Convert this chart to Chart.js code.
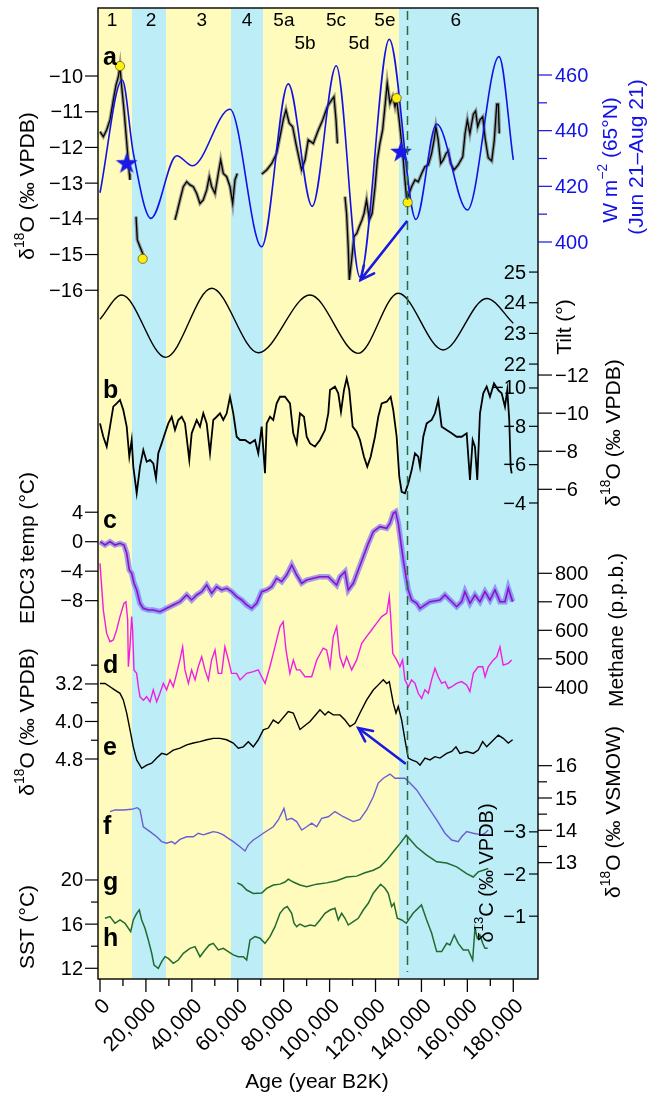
<!DOCTYPE html>
<html><head><meta charset="utf-8">
<script src="https://cdn.jsdelivr.net/npm/chart.js@4.4.1/dist/chart.umd.min.js"></script>
<style>html,body{margin:0;padding:0;background:#fff;}#wrap{width:659px;height:1096px;}</style>
</head><body><div id="wrap"><canvas id="c" width="659" height="1096"></canvas></div>
<script>
// ---------------- DATA ----------------
const stageBounds = [14000, 28600, 57200, 71000, 130100];
const stageLabels = ['1','2','3','4','5a','5b','5c','5d','5e','6'];
const stageLabelAge = [5200, 22200, 44300, 64000, 80100, 89300, 102800, 112800, 124100, 155000];
const stageLabelRow = [0,0,0,0,0,1,0,1,0,0];
const terminationAge = 133500;

// a: speleothem d18O (null = gap)
const speleoAge = [0,1440,2900,4350,5800,7000,8000,8700,9450,10450,11300,12050,12750,13050,
 14500,
 15700,16250,17400,18600,19600,
 26000,
 32650,33400,34840,36280,37760,39200,40630,42110,43550,44990,46470,47600,48650,50080,51520,52560,53700,55180,56620,57790,58790,59800,
 65000,
 70400,72600,74800,76900,78400,79800,81000,82400,83900,85600,87800,89300,90700,92900,95100,97000,99000,100900,101900,102800,103400,
 105000,
 106700,107400,108100,108600,109600,110600,111800,112900,114100,115000,116100,117300,118500,119800,120800,121900,123100,124100,125100,126300,127500,128500,129200,130300,131400,132100,132800,133600,
 135700,137200,138600,140100,141500,143000,144400,145500,146300,147300,148400,149500,150700,151700,152700,154200,156000,158000,159000,160000,161100,162600,163600,164500,165500,166700,167700,169100,170600,171700,172800,173500,173900];
const speleoD18O = [-11.56,-11.70,-11.51,-11.23,-10.67,-10.25,-10.02,-9.72,-10.3,-10.95,-11.6,-12.17,-12.73,-12.91,
 null,
 -13.94,-14.59,-14.78,-14.97,-15.1,
 null,
 -14.03,-13.85,-13.47,-13.1,-12.96,-13.05,-13.1,-13.29,-13.57,-13.47,-13.19,-12.82,-13.1,-13.29,-12.73,-12.35,-12.73,-12.82,-13.1,-13.57,-12.91,-12.73,
 null,
 -12.75,-12.63,-12.45,-12.17,-11.7,-11.23,-10.95,-11.32,-11.42,-11.98,-12.63,-12.35,-11.79,-11.89,-11.51,-11.23,-10.86,-10.67,-10.58,-11.23,-11.89,
 null,
 -13.38,-13.85,-14.78,-15.71,-15.15,-14.5,-14.41,-14.22,-14.03,-13.85,-13.47,-14.03,-13.85,-13.1,-12.35,-11.89,-11.51,-10.86,-10.2,-10.77,-10.58,-10.86,-10.67,-11.23,-11.89,-12.35,-12.91,-13.47,
 -13.1,-12.91,-12.96,-12.73,-12.54,-12.49,-12.17,-11.79,-11.42,-11.79,-12.45,-12.35,-12.17,-12.1,-12.45,-12.63,-12.49,-12.26,-11.61,-11.23,-11.61,-11.07,-10.98,-11.42,-11.23,-11.14,-11.73,-12.29,-12.38,-11.82,-10.79,-10.79,-11.61];
const dotAge = [8700, 18600, 129200, 134000];
const dotD18O = [-9.72, -15.12, -10.62, -13.54];

// insolation 65N
const insAge = [0,9700,14500,22200,33400,40300,56600,70400,82000,92400,102900,113200,126000,137600,146600,160000,173800,180000];
const insWm2 = [417.7,458.2,432,408.5,431,427.4,447.7,398.3,456.8,412.8,463.3,387.4,472.8,408.1,442.4,411.5,466.6,429.5];
const starAge = [11600, 131100];
const starIns = [428.3, 432.4];

// obliquity
const tiltAge = [0,9450,28600,48650,68950,91450,112500,129900,149500,168400,180000];
const tiltDeg = [23.46,24.25,22.22,24.47,22.37,24.25,22.35,24.31,22.46,24.14,23.33];

// b: d18O
const bAge = [0,1440,2920,4360,5790,7270,8710,10150,11630,12760,13810,14500,15240,15980,17420,18860,20340,21780,23210,24390,25390,26870,28310,29750,31230,32660,34100,35580,37020,38890,39930,42110,43550,44990,46470,47910,49340,50820,52260,53700,55180,56620,58050,59530,60970,63150,65330,67500,68940,70420,71860,72600,74040,75470,76950,78390,80570,82750,84180,85660,87100,88840,90020,91460,93630,95810,97990,99430,100170,102340,103780,104960,106260,107440,108570,110050,111790,113230,114970,116410,117890,119760,121200,122680,124860,126600,127730,129210,130350,131390,132830,134260,135740,137180,138620,139360,140800,142280,144460,145890,147330,148810,150990,153170,155340,157520,159700,161140,162310,163310,164320,165490,166930,168410,169850,171590,173460,174940,176380,177380,178250,178860,179300];
const bD18O = [-9.46,-8.76,-8.24,-9.29,-10.34,-10.51,-10.69,-10.16,-9.29,-7.71,-8.59,-7.19,-6.49,-5.79,-7.19,-8.06,-7.45,-7.54,-7.36,-6.58,-7.89,-8.41,-8.94,-9.46,-9.81,-9.11,-9.64,-9.81,-9.46,-7.54,-8.94,-9.64,-9.29,-9.99,-9.46,-7.89,-9.64,-9.81,-9.99,-9.64,-9.99,-10.86,-9.99,-8.76,-8.59,-8.59,-8.41,-8.59,-7.89,-9.29,-6.84,-9.46,-9.81,-9.64,-10.51,-10.86,-10.86,-10.51,-8.94,-8.41,-9.99,-9.81,-8.76,-8.41,-8.24,-8.59,-9.11,-9.99,-11.21,-11.39,-11.04,-10.07,-11.21,-11.83,-11.21,-9.29,-9.02,-8.59,-7.71,-7.19,-7.71,-8.76,-9.81,-10.51,-10.6,-10.86,-10.16,-8.76,-6.66,-5.87,-5.79,-6.31,-7.01,-7.89,-7.71,-7.19,-8.76,-9.46,-9.64,-9.99,-10.69,-9.29,-9.11,-8.94,-8.76,-8.76,-8.94,-6.49,-8.59,-8.24,-6.49,-9.99,-11.04,-11.39,-10.86,-11.56,-11.21,-11.04,-10.34,-11.21,-9.64,-7.19,-6.84];

// c: EDC3 temperature anomaly
const edcAge = [0,2180,4360,6530,8710,10450,11630,12760,13810,14810,15980,17420,18860,21040,23210,26130,29050,31920,34840,37760,39930,42110,44290,46470,48650,50820,53000,55180,57360,59530,61710,63890,66070,68240,70420,72600,74780,76950,79130,81310,83490,85660,87840,90020,92890,95810,99430,103080,104520,106700,108140,110310,112490,114670,116850,119020,121940,124860,126300,127730,128780,129910,131090,132090,133260,134260,135740,137920,139360,143720,148070,150250,152430,155340,157520,158960,161140,163310,165490,167670,169850,172020,174200,176380,177820,179720];
const edcTemp = [0,-0.45,0,-0.45,-0.22,-0.45,-1.57,-3.84,-4.29,-5.64,-6.55,-8.36,-9.04,-9.27,-9.27,-9.5,-9.04,-8.59,-8.14,-7.23,-7.91,-7.23,-6.78,-5.88,-7.0,-6.11,-6.55,-6.32,-6.78,-7.46,-7.91,-8.59,-9.04,-8.36,-6.78,-6.55,-6.11,-4.97,-5.43,-4.52,-3.16,-4.52,-5.64,-5.2,-4.97,-4.75,-4.75,-5.88,-4.75,-4.07,-6.55,-5.64,-3.84,-2.04,-0.22,1.36,2.04,1.82,2.5,3.85,4.07,2.5,-0.22,-2.48,-4.75,-6.55,-7.91,-8.36,-9.04,-8.14,-7.91,-7.23,-7.91,-8.82,-8.14,-6.78,-8.36,-7.23,-8.14,-6.78,-7.91,-6.55,-8.14,-8.14,-6.32,-8.14];

// d: methane (ppb)
const ch4Age = [0,1450,2900,4350,5800,7250,8700,10450,11300,12050,12350,13050,13800,14200,14800,15950,16700,17400,18900,20300,21800,23200,24700,26100,27600,29000,30500,31900,33400,34800,36000,37000,38500,39900,41400,42800,44300,45700,47200,48600,50100,51500,53000,54400,55900,57300,59500,61000,63900,66800,68900,70400,71900,74000,76200,78400,79800,81000,82700,84200,85600,87100,89300,92200,94400,97200,98700,100200,101600,103100,104500,106000,107400,109600,111800,114000,116100,118300,120500,122700,124900,126000,126600,127500,129200,130600,131800,132800,134300,135700,137200,138600,140100,141500,143000,144400,145900,147300,148800,150300,151700,153200,155300,157500,159700,161100,162600,164700,166700,167700,169100,171300,172800,174200,175600,177800,179300];
const ch4Ppb = [835,671,589,560,566,601,648,695,700,636,472,542,648,601,461,449,402,367,355,367,349,391,349,379,414,391,426,402,449,496,542,461,414,461,426,472,507,461,426,496,531,449,449,542,496,449,449,426,449,455,461,437,414,472,542,613,630,531,449,496,461,461,437,437,496,537,531,472,578,613,507,472,507,461,496,554,578,601,625,648,660,718,648,519,496,472,496,426,402,426,414,379,361,391,379,426,467,437,414,420,396,402,414,420,408,385,449,472,472,437,472,496,507,542,478,484,496];

// e: benthic d18O
const eAge = [0,2180,4360,6530,8710,10150,11630,13070,14500,15980,18160,20340,22520,24690,26870,29050,31920,34840,37760,40630,43550,46470,49340,52260,55180,58050,60230,62410,64590,66760,68940,71120,73300,75470,77650,82000,84180,87100,91460,95810,97990,99430,101610,104520,106700,108880,111050,113230,116150,119020,121200,123380,124860,126000,127730,128910,129910,131390,132830,134260,135740,137920,139360,141540,143720,145890,148070,150990,153170,155040,156780,159700,162570,164750,166670,168410,170590,173460,175640,177820,179720];
const eD18O = [3.19,3.19,3.26,3.33,3.40,3.54,3.82,4.18,4.54,4.82,5.0,4.93,4.89,4.78,4.68,4.71,4.61,4.57,4.5,4.46,4.43,4.39,4.36,4.36,4.39,4.46,4.57,4.54,4.43,4.54,4.39,4.18,4.14,3.97,4.04,3.79,3.82,4.17,4.0,3.75,3.86,3.79,3.86,3.86,3.97,4.11,4.04,3.82,3.54,3.33,3.22,3.11,3.19,3.15,3.61,3.82,3.68,3.97,4.39,4.78,4.82,4.86,4.93,4.78,4.82,4.75,4.78,4.68,4.64,4.54,4.68,4.64,4.68,4.61,4.43,4.54,4.43,4.29,4.36,4.46,4.39];

// f: d18O VSMOW
const fAge = [4360,6530,10150,13810,16240,17420,18860,21780,24690,26870,29050,31230,32660,34840,37760,40630,42810,44990,47170,49340,51520,53700,55880,58050,60970,63150,64590,66760,68940,71120,73300,75470,77650,79130,80130,81310,83490,85660,87840,90020,92200,94380,96550,99430,102340,105960,110310,113230,116150,119020,121200,123380,126300,128470,132830,135010,137920,140800,143720,146630,150250,153170,156040,157520,159700,162570,166230,167670,169110];
const fD18O = [14.58,14.63,14.63,14.65,14.7,14.63,14.11,13.96,13.8,13.65,13.6,13.65,13.58,13.72,13.8,13.8,13.91,13.86,13.91,13.96,13.93,13.86,13.75,13.65,13.49,13.36,13.55,13.7,13.8,13.91,14.01,14.11,14.32,14.53,14.68,14.32,14.37,14.27,14.01,14.11,14.22,14.11,14.37,14.42,14.58,14.42,14.27,14.34,14.63,15.04,15.46,15.61,15.74,15.61,15.61,15.46,15.25,14.94,14.63,14.32,13.91,13.7,13.65,13.8,13.96,13.91,13.86,13.91,14.01];

// g: d13C
const gAge = [59800,61710,63890,66760,70420,72600,75470,78390,80570,82000,84180,87100,90020,94380,98730,103080,107440,111790,115410,119020,121940,124860,127730,130650,133400,137920,142280,146630,150990,155340,159700,162570,164750,166930,169110];
const gD13C = [-1.79,-1.74,-1.62,-1.54,-1.55,-1.66,-1.74,-1.76,-1.81,-1.88,-1.81,-1.74,-1.70,-1.76,-1.79,-1.84,-1.93,-1.95,-2.03,-2.09,-2.17,-2.33,-2.53,-2.72,-2.92,-2.64,-2.45,-2.29,-2.26,-2.17,-2.01,-1.93,-2.05,-2.09,-2.13];

// h: SST
const hAge = [2180,4360,6530,8710,10890,13370,14500,15980,17120,18160,19600,21040,22520,23520,25390,26870,28310,29750,31920,34100,36280,39200,41370,43550,45730,47600,49340,51520,53700,55880,58050,60230,62410,63890,65330,67500,69680,71860,74040,76210,78390,80130,81570,83490,84490,85660,87100,89280,91460,93630,95810,97990,100170,102340,103780,105260,106700,108140,110310,112490,114670,116850,119020,120760,122240,124120,125560,127030,128040,129480,131390,133400,136350,140010,142280,144460,146630,148810,150990,152430,154300,156040,158220,160400,162310,163310,164320,165490,166670,167670,168840];
const hSST = [16.53,16.68,16.08,16.38,16.08,15.32,16.38,16.98,17.28,16.38,15.62,14.57,13.36,12.3,12.0,12.6,13.05,12.9,12.45,12.75,13.36,13.81,13.96,13.05,13.66,14.11,14.26,13.66,13.81,13.51,13.21,13.05,13.05,12.75,14.57,14.87,14.72,14.26,14.87,15.77,16.98,17.44,17.59,16.98,16.08,15.77,16.01,15.77,15.92,15.83,16.38,16.98,17.28,17.44,16.38,16.98,16.53,15.92,16.22,16.53,17.28,17.89,18.80,19.25,19.61,19.25,18.8,17.59,17.89,16.53,16.38,16.08,16.98,17.74,16.38,15.17,13.51,13.51,14.26,14.11,15.02,14.26,13.66,13.66,12.75,15.62,14.72,15.02,14.26,13.81,13.81];

// arrows [age, value]
const arrowA = [[133500, -14.08], [113500, -15.71]];
const arrowE = [[132800, 4.89], [112500, 4.14]];

// tick values
const xMajor = [0,20000,40000,60000,80000,100000,120000,140000,160000,180000];
const xMinor = [10000,30000,50000,70000,90000,110000,130000,150000,170000];
const aTicks = [-10,-11,-12,-13,-14,-15,-16];
const insTicks = [460,440,420,400];
const insMinor = [450,430,410];
const tiltTicks = [25,24,23,22];
const bOuterTicks = [-12,-10,-8,-6];
const bInnerTicks = [-10,-8,-6,-4];
const cTicks = [4,0,-4,-8];
const ch4Ticks = [800,700,600,500,400];
const eTicks = [3.2,4.0,4.8];
const eMinor = [2.8,3.6,4.4];
const fTicks = [16,15,14,13];
const fMinor = [15.5,14.5,13.5];
const gTicks = [-3,-2,-1];
const hTicks = [20,16,12];
const hMinor = [18,14];

// ---------------- STYLE / BUILD ----------------
const FONT = '"Liberation Sans", Arial, Helvetica, sans-serif';
const YELLOW = '#fefbbc', CYAN = '#bdedf7';
const BLUE = '#1212e6';
const pts = (ax, ay) => ax.map((a, i) => ({x: a, y: ay[i]}));

const starImg = document.createElement('canvas');
starImg.width = 24; starImg.height = 24;
(function(){
  const c = starImg.getContext('2d');
  c.fillStyle = '#1a1ae8';
  c.beginPath();
  for (let i = 0; i < 10; i++) {
    const r = i % 2 === 0 ? 11.5 : 4.6;
    const ang = -Math.PI / 2 + i * Math.PI / 5;
    const px = 12 + r * Math.cos(ang), py = 12.5 + r * Math.sin(ang);
    if (i === 0) c.moveTo(px, py); else c.lineTo(px, py);
  }
  c.closePath(); c.fill();
})();

function line(data, axis, color, width, extra) {
  return Object.assign({type:'line', data, yAxisID: axis, borderColor: color, borderWidth: width,
    pointRadius: 0, fill: false, tension: 0, spanGaps: false}, extra || {});
}
const smooth = {cubicInterpolationMode: 'monotone'};

const datasets = [
  line(pts(speleoAge, speleoD18O), 'yA', 'rgba(120,120,120,0.7)', 3.6),
  line(pts(speleoAge, speleoD18O), 'yA', '#000', 1.3),
  line(pts(insAge, insWm2), 'yIns', BLUE, 1.6, smooth),
  line(pts(tiltAge, tiltDeg), 'yTilt', '#000', 1.4, smooth),
  line(pts(bAge, bD18O), 'yB', '#000', 1.8),
  line(pts(edcAge, edcTemp), 'yC', 'rgba(125,115,250,0.7)', 5.5),
  line(pts(edcAge, edcTemp), 'yC', '#8a14c4', 1.6),
  line(pts(ch4Age, ch4Ppb), 'yCH4', '#f01ee0', 1.4),
  line(pts(eAge, eD18O), 'yE', '#000', 1.4),
  line(pts(fAge, fD18O), 'yF', '#6a5fd2', 1.4),
  line(pts(gAge, gD13C), 'yG', '#1f6b30', 1.5),
  line(pts(hAge, hSST), 'yH', '#1f6b30', 1.5),
  line(pts(dotAge, dotD18O), 'yA', '#6b5d00', 0.8, {showLine:false, pointRadius:4.6, pointBackgroundColor:'#ffee11', pointBorderColor:'#6b5d00', pointBorderWidth:0.8}),
  line(pts(starAge, starIns), 'yIns', BLUE, 0, {showLine:false, pointRadius:6, pointStyle: starImg})
];
datasets.forEach((d, i) => d.order = datasets.length - i);

const fmt = v => (v < 0 ? '\u2212' : '') + Math.abs(v);
const fmt1 = v => v.toFixed(1);

function rich(ctx, parts, x, y, rot, size, color, bold) {
  ctx.save();
  ctx.translate(x, y); ctx.rotate(rot);
  ctx.fillStyle = color; ctx.textBaseline = 'middle'; ctx.textAlign = 'left';
  const w = parts.map(p => { ctx.font = (bold ? 'bold ' : '') + (p.sup ? size * 0.66 : size) + 'px ' + FONT; return ctx.measureText(p.t).width; });
  let cx = -w.reduce((s, v) => s + v, 0) / 2;
  parts.forEach((p, i) => {
    ctx.font = (bold ? 'bold ' : '') + (p.sup ? size * 0.66 : size) + 'px ' + FONT;
    ctx.fillText(p.t, cx, p.sup ? -size * 0.36 : 0);
    cx += w[i];
  });
  ctx.restore();
}

function drawArrow(ctx, x0, y0, x1, y1) {
  ctx.beginPath(); ctx.moveTo(x0, y0); ctx.lineTo(x1, y1); ctx.stroke();
  const ang = Math.atan2(y1 - y0, x1 - x0), L = 15, sp = 0.45;
  ctx.beginPath();
  ctx.moveTo(x1 - L * Math.cos(ang - sp), y1 - L * Math.sin(ang - sp));
  ctx.lineTo(x1, y1);
  ctx.lineTo(x1 - L * Math.cos(ang + sp), y1 - L * Math.sin(ang + sp));
  ctx.stroke();
}

const decor = {
  id: 'decor',
  beforeDatasetsDraw(chart) {
    const {ctx, chartArea: a, scales: s} = chart;
    const edges = [s.x.min, ...stageBounds, s.x.max];
    ctx.save();
    for (let i = 0; i < edges.length - 1; i++) {
      const x0 = Math.round(s.x.getPixelForValue(edges[i])), x1 = Math.round(s.x.getPixelForValue(edges[i + 1]));
      ctx.fillStyle = i % 2 === 0 ? YELLOW : CYAN;
      ctx.fillRect(x0, a.top, x1 - x0, a.bottom - a.top);
    }
    ctx.restore();
  },
  afterDatasetsDraw(chart) {
    const {ctx, chartArea: a, scales: s} = chart;
    const X = v => s.x.getPixelForValue(v);
    const L = a.left, R = a.right;
    ctx.save();
    // termination dashed line
    ctx.setLineDash([9, 6]); ctx.strokeStyle = '#2a6a36'; ctx.lineWidth = 1.5;
    const xt = Math.round(X(terminationAge)) + 0.5;
    ctx.beginPath(); ctx.moveTo(xt, a.top + 3); ctx.lineTo(xt, 972); ctx.stroke();
    ctx.setLineDash([]);
    // arrows
    ctx.strokeStyle = '#1a1ae0'; ctx.lineWidth = 2.6; ctx.lineCap = 'round';
    [[arrowA, 'yA'], [arrowE, 'yE']].forEach(([ar, id]) => {
      drawArrow(ctx, X(ar[0][0]), s[id].getPixelForValue(ar[0][1]), X(ar[1][0]), s[id].getPixelForValue(ar[1][1]));
    });
    ctx.lineCap = 'butt';
    // frame
    ctx.strokeStyle = '#000'; ctx.lineWidth = 1.4;
    ctx.strokeRect(L, a.top, R - L, a.bottom - a.top);

    // tick helpers
    const tk = (x0, y, x1, col) => { ctx.strokeStyle = col; ctx.lineWidth = 1.2; ctx.beginPath(); ctx.moveTo(x0, y); ctx.lineTo(x1, y); ctx.stroke(); };
    const lab = (t, x, y, align, col) => { ctx.fillStyle = col; ctx.font = '20px ' + FONT; ctx.textAlign = align; ctx.textBaseline = 'middle'; ctx.fillText(t, x, y); };
    function axisLeft(id, majors, minors, f) {
      const sc = s[id];
      majors.forEach(v => { const y = sc.getPixelForValue(v); tk(L - 13, y, L, '#000'); lab(f(v), L - 15, y + 1, 'right', '#000'); });
      (minors || []).forEach(v => { const y = sc.getPixelForValue(v); tk(L - 7, y, L, '#000'); });
    }
    function axisRightOut(id, majors, minors, f, col) {
      const sc = s[id];
      majors.forEach(v => { const y = sc.getPixelForValue(v); tk(R, y, R + 14, col); lab(f(v), R + 17, y + 1, 'left', col); });
      (minors || []).forEach(v => { const y = sc.getPixelForValue(v); tk(R, y, R + 9, col); });
    }
    function axisRightIn(id, majors, f) {
      const sc = s[id];
      majors.forEach(v => { const y = sc.getPixelForValue(v); tk(R - 9, y, R, '#000'); lab(f(v), R - 12, y + 1, 'right', '#000'); });
    }
    axisLeft('yA', aTicks, null, fmt);
    axisLeft('yC', cTicks, null, fmt);
    axisLeft('yE', eTicks, eMinor, fmt1);
    axisLeft('yH', hTicks, hMinor, fmt);
    axisRightOut('yIns', insTicks, insMinor, fmt, BLUE);
    axisRightOut('yB', bOuterTicks, null, fmt, '#000');
    axisRightOut('yCH4', ch4Ticks, null, fmt, '#000');
    axisRightOut('yF', fTicks, fMinor, fmt, '#000');
    axisRightIn('yTilt', tiltTicks, fmt);
    axisRightIn('yB2', bInnerTicks, fmt);
    axisRightIn('yG', gTicks, fmt);

    // x axis
    ctx.strokeStyle = '#000'; ctx.lineWidth = 1.3;
    xMajor.forEach(v => {
      const x = X(v);
      ctx.strokeStyle = '#000'; ctx.lineWidth = 1.3;
      ctx.beginPath(); ctx.moveTo(x, a.bottom); ctx.lineTo(x, a.bottom + 13); ctx.stroke();
      ctx.save(); ctx.translate(x + 7, a.bottom + 24); ctx.rotate(-Math.PI / 4);
      ctx.fillStyle = '#000'; ctx.font = '21px ' + FONT; ctx.textAlign = 'right'; ctx.textBaseline = 'middle';
      ctx.fillText(v.toLocaleString('en-US'), 0, 0); ctx.restore();
    });
    xMinor.forEach(v => { const x = X(v); ctx.beginPath(); ctx.moveTo(x, a.bottom); ctx.lineTo(x, a.bottom + 7); ctx.stroke(); });

    // stage labels
    ctx.fillStyle = '#000'; ctx.font = '19px ' + FONT; ctx.textAlign = 'center'; ctx.textBaseline = 'middle';
    stageLabels.forEach((t, i) => ctx.fillText(t, X(stageLabelAge[i]), stageLabelRow[i] ? 44 : 21));

    // panel letters
    ctx.font = 'bold 25px ' + FONT; ctx.textAlign = 'left'; ctx.textBaseline = 'alphabetic';
    [['a',65],['b',398],['c',528],['d',673],['e',755],['f',834],['g',890],['h',946]].forEach(([t, y]) => ctx.fillText(t, 103, y));

    // axis titles
    const R90 = -Math.PI / 2;
    const d18 = tail => [{t:'\u03b4'}, {t:'18', sup:true}, {t:'O (\u2030 ' + tail + ')'}];
    rich(ctx, d18('VPDB'), 28, 186, R90, 21, '#000');
    rich(ctx, [{t:'W m'}, {t:'\u22122', sup:true}, {t:' (65\u00b0N)'}], 611, 160, R90, 21, BLUE);
    rich(ctx, [{t:'(Jun 21\u2013Aug 21)'}], 637, 157, R90, 21, BLUE);
    rich(ctx, [{t:'Tilt (\u00b0)'}], 565, 327, R90, 21, '#000');
    rich(ctx, d18('VPDB'), 614, 433, R90, 21, '#000');
    rich(ctx, [{t:'EDC3 temp (\u00b0C)'}], 28, 548, R90, 21, '#000');
    rich(ctx, [{t:'Methane (p.p.b.)'}], 617, 630, R90, 21, '#000');
    rich(ctx, d18('VPDB'), 28, 722, R90, 21, '#000');
    rich(ctx, d18('VSMOW'), 614, 812, R90, 21, '#000');
    rich(ctx, [{t:'\u03b4'}, {t:'13', sup:true}, {t:'C (\u2030 VPDB)'}], 487, 873, R90, 20, '#000');
    rich(ctx, [{t:'SST (\u00b0C)'}], 28, 927, R90, 21, '#000');
    rich(ctx, [{t:'Age (year B2K)'}], 317, 1082, 0, 21, '#000');
    ctx.restore();
  }
};

const hid = (min, max, rev) => ({type:'linear', display:false, min, max, reverse: !!rev});
new Chart(document.getElementById('c'), {
  type: 'line',
  data: {datasets},
  options: {
    responsive: false, animation: false, events: [],
    layout: {padding: {left: 98, right: 121, top: 8, bottom: 117}},
    plugins: {legend: {display: false}, tooltip: {enabled: false}, title: {display: false}},
    scales: {
      x: {type:'linear', display:false, min:-871, max:190766},
      yA: hid(-35.29, -8.095),
      yIns: hid(135.2, 484.07),
      yTilt: hid(1.95, 33.61),
      yB: hid(-31.27, 19.71, true),
      yB2: hid(-29.82, 20.83, true),
      yC: hid(-59.34, 72.42),
      yCH4: hid(-623.5, 2783.5),
      yE: hid(-11.21, 9.49, true),
      yF: hid(9.40, 39.44),
      yG: hid(-22.54, 0.49, true),
      yH: hid(11.03, 98.99)
    }
  },
  plugins: [decor]
});
</script></body></html>
